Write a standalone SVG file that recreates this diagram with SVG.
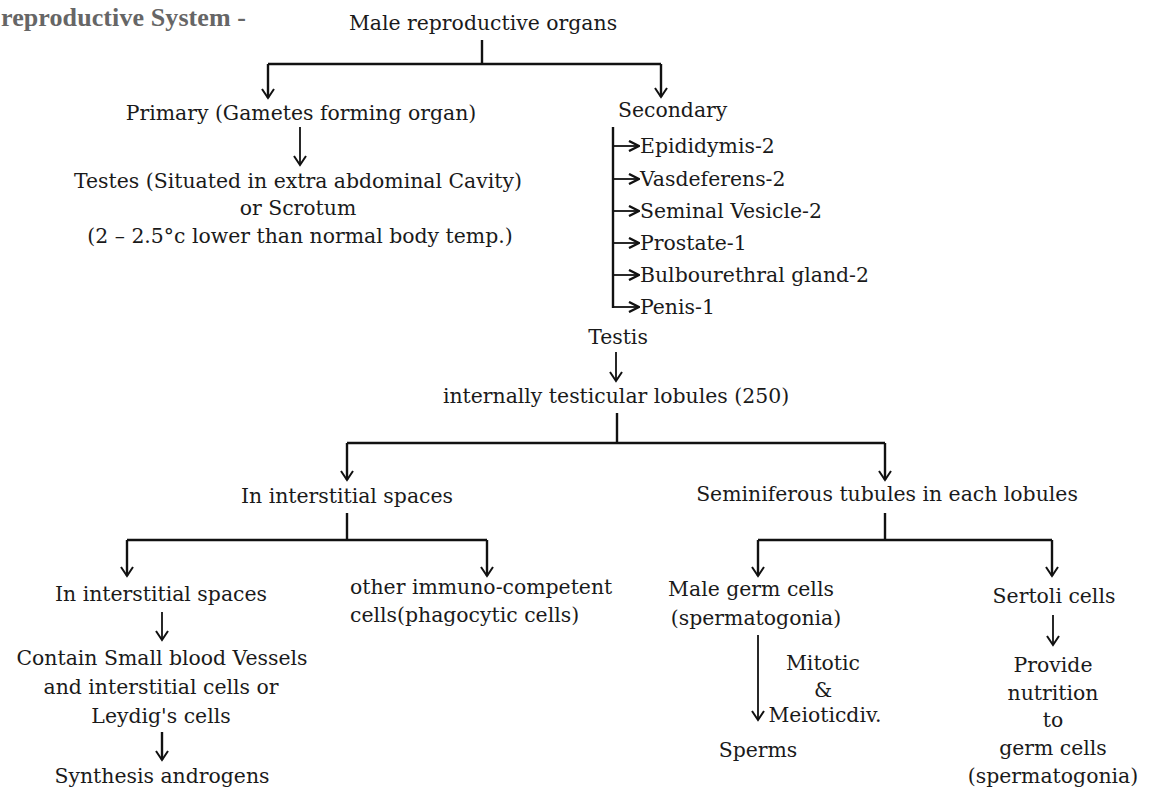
<svg xmlns="http://www.w3.org/2000/svg" width="1149" height="803" viewBox="0 0 1149 803">
<defs>
<style>
.t{font-family:"DejaVu Serif","Liberation Serif",serif;font-size:20.4px;fill:#1a1a1a}
.m{text-anchor:middle}
.h{font-family:"Liberation Serif","DejaVu Serif",serif;font-size:26px;font-weight:bold;fill:#666}
.c{stroke:#111;stroke-width:2.4;fill:none}
.s{stroke:#111;stroke-width:1.8;fill:none}
</style>
<marker id="a" viewBox="0 0 12 14" refX="10" refY="7" markerWidth="12" markerHeight="14" markerUnits="userSpaceOnUse" orient="auto">
<path d="M1,1 L10,7 L1,13" fill="none" stroke="#111" stroke-width="2"/>
</marker>
<marker id="b" viewBox="0 0 12 12" refX="11" refY="6" markerWidth="12" markerHeight="12" markerUnits="userSpaceOnUse" orient="auto">
<path d="M1,1 L11,6 L1,11" fill="none" stroke="#111" stroke-width="2.4"/>
</marker>
</defs>
<rect width="1149" height="803" fill="#fff"/>
<text class="h" x="1" y="26" textLength="245">reproductive System -</text>
<g id="connectors">
<path class="c" d="M482,40 V64"/>
<path class="c" d="M268,64 H661"/>
<path class="c" d="M268,64 V98" marker-end="url(#a)"/>
<path class="c" d="M661,64 V97" marker-end="url(#a)"/>
<path class="s" d="M300,127 V165" marker-end="url(#a)"/>
<path class="c" d="M613,127 V308"/>
<path class="s" d="M613,146 H639" marker-end="url(#b)"/>
<path class="s" d="M613,179 H639" marker-end="url(#b)"/>
<path class="s" d="M613,211 H639" marker-end="url(#b)"/>
<path class="s" d="M613,243 H639" marker-end="url(#b)"/>
<path class="s" d="M613,275 H639" marker-end="url(#b)"/>
<path class="s" d="M612,307 H639" marker-end="url(#b)"/>
<path class="s" d="M616,352 V381" marker-end="url(#a)"/>
<path class="c" d="M617,413 V443"/>
<path class="c" d="M347,443 H885"/>
<path class="c" d="M347,443 V480" marker-end="url(#a)"/>
<path class="c" d="M885,443 V480" marker-end="url(#a)"/>
<path class="c" d="M347,513 V540"/>
<path class="c" d="M127,540 H487"/>
<path class="c" d="M127,540 V576" marker-end="url(#a)"/>
<path class="c" d="M487,540 V576" marker-end="url(#a)"/>
<path class="c" d="M885,513 V540"/>
<path class="c" d="M758,540 H1052"/>
<path class="c" d="M758,540 V576" marker-end="url(#a)"/>
<path class="c" d="M1052,540 V576" marker-end="url(#a)"/>
<path class="s" d="M162,612 V640" marker-end="url(#a)"/>
<path class="c" d="M162,732 V760" marker-end="url(#a)"/>
<path class="s" d="M758,635 V720" marker-end="url(#a)"/>
<path class="s" d="M1053,615 V645" marker-end="url(#a)"/>
</g>
<g id="n-male"><text class="t m" x="483" y="30">Male reproductive organs</text></g>
<g id="n-primary"><text class="t m" x="301" y="120">Primary (Gametes forming organ)</text></g>
<g id="n-testes"><text class="t m" x="298" y="188">Testes (Situated in extra abdominal Cavity)</text><text class="t m" x="298" y="215">or Scrotum</text><text class="t m" x="300" y="243">(2 – 2.5°c lower than normal body temp.)</text></g>
<g id="n-secondary"><text class="t" x="618" y="117">Secondary</text></g>
<g id="n-epi"><text class="t" x="640" y="153">Epididymis-2</text></g>
<g id="n-vas"><text class="t" x="640" y="186">Vasdeferens-2</text></g>
<g id="n-sem"><text class="t" x="640" y="218">Seminal Vesicle-2</text></g>
<g id="n-pro"><text class="t" x="640" y="250">Prostate-1</text></g>
<g id="n-bul"><text class="t" x="640" y="282">Bulbourethral gland-2</text></g>
<g id="n-pen"><text class="t" x="640" y="314">Penis-1</text></g>
<g id="n-testis"><text class="t m" x="618" y="344">Testis</text></g>
<g id="n-lobules"><text class="t m" x="616" y="403">internally testicular lobules (250)</text></g>
<g id="n-inter1"><text class="t m" x="347" y="503">In interstitial spaces</text></g>
<g id="n-semtub"><text class="t m" x="887" y="501">Seminiferous tubules in each lobules</text></g>
<g id="n-inter2"><text class="t m" x="161" y="601">In interstitial spaces</text></g>
<g id="n-immuno"><text class="t" x="350" y="594">other immuno-competent</text><text class="t" x="350" y="622">cells(phagocytic cells)</text></g>
<g id="n-germ"><text class="t m" x="751" y="596">Male germ cells</text><text class="t m" x="756" y="625">(spermatogonia)</text></g>
<g id="n-sertoli"><text class="t m" x="1054" y="603">Sertoli cells</text></g>
<g id="n-contain"><text class="t m" x="162" y="665">Contain Small blood Vessels</text><text class="t m" x="161" y="694">and interstitial cells or</text><text class="t m" x="161" y="723">Leydig's cells</text></g>
<g id="n-synth"><text class="t m" x="162" y="783">Synthesis androgens</text></g>
<g id="n-mitotic"><text class="t m" x="823" y="670">Mitotic</text><text class="t m" x="823" y="697">&amp;</text><text class="t m" x="825" y="722">Meioticdiv.</text></g>
<g id="n-sperms"><text class="t m" x="758" y="757">Sperms</text></g>
<g id="n-provide"><text class="t m" x="1053" y="672">Provide</text><text class="t m" x="1053" y="700">nutrition</text><text class="t m" x="1053" y="727">to</text><text class="t m" x="1053" y="755">germ cells</text><text class="t m" x="1053" y="783">(spermatogonia)</text></g>
</svg>
